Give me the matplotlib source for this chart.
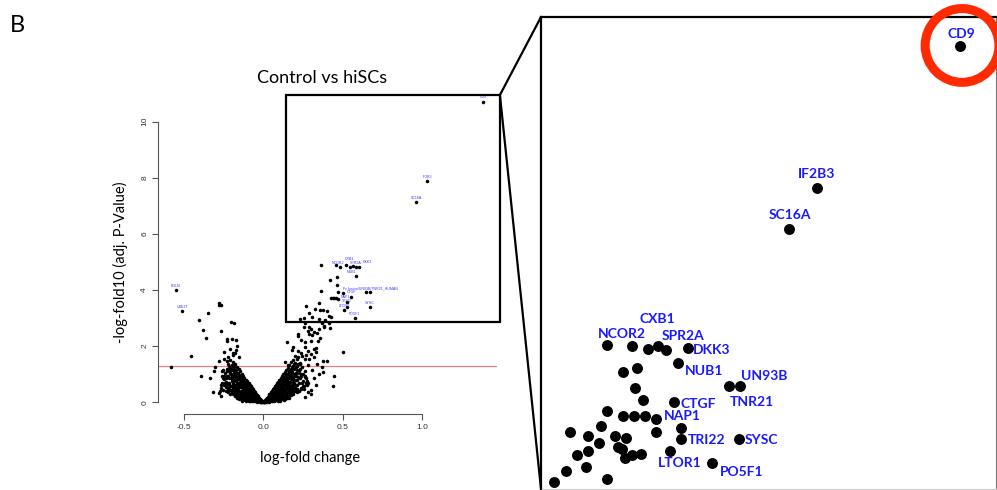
import matplotlib
matplotlib.use("Agg")
import matplotlib.pyplot as plt
from matplotlib.patches import Rectangle, Ellipse, ConnectionPatch

# ---------------- data (log-fold change, -log10 adj. p) ----------------
core_neg = [(-0.004,0.01),(-0.008,0.03),(-0.006,0.0),(-0.011,0.06),(-0.013,0.02),(-0.016,0.09),(-0.018,0.04),(-0.021,0.13),(-0.022,0.01),(-0.024,0.07),(-0.027,0.17),(-0.028,0.11),(-0.031,0.03),(-0.033,0.21),(-0.034,0.14),(-0.036,0.08),(-0.038,0.26),(-0.041,0.18),(-0.042,0.05),(-0.044,0.12),(-0.046,0.31),(-0.047,0.23),(-0.049,0.09),(-0.052,0.36),(-0.053,0.16),(-0.055,0.27),(-0.057,0.04),(-0.058,0.41),(-0.06,0.21),(-0.061,0.12),(-0.063,0.33),(-0.065,0.47),(-0.066,0.07),(-0.068,0.26),(-0.07,0.15),(-0.071,0.52),(-0.073,0.38),(-0.075,0.1),(-0.076,0.3),(-0.078,0.57),(-0.079,0.2),(-0.081,0.44),(-0.083,0.06),(-0.084,0.35),(-0.086,0.62),(-0.087,0.14),(-0.089,0.25),(-0.09,0.5),(-0.092,0.69),(-0.094,0.09),(-0.095,0.4),(-0.097,0.18),(-0.098,0.3),(-0.1,0.58),(-0.101,0.75),(-0.103,0.12),(-0.105,0.46),(-0.106,0.23),(-0.108,0.35),(-0.109,0.81),(-0.111,0.65),(-0.113,0.08),(-0.114,0.28),(-0.116,0.52),(-0.117,0.17),(-0.119,0.88),(-0.12,0.41),(-0.122,0.72),(-0.124,0.13),(-0.125,0.33),(-0.127,0.95),(-0.128,0.58),(-0.13,0.22),(-0.131,0.47),(-0.133,0.8),(-0.135,0.1),(-0.136,1.02),(-0.138,0.38),(-0.139,0.65),(-0.141,0.27),(-0.143,0.88),(-0.144,0.16),(-0.146,1.1),(-0.147,0.53),(-0.149,0.74),(-0.15,0.31),(-0.152,0.96),(-0.154,0.2),(-0.155,1.18),(-0.157,0.44),(-0.158,0.62),(-0.16,0.83),(-0.162,1.05),(-0.163,0.25),(-0.165,1.27),(-0.166,0.37),(-0.168,0.7),(-0.17,0.52),(-0.171,0.93),(-0.173,1.15),(-0.175,0.29),(-0.176,1.36),(-0.178,0.6),(-0.18,0.81),(-0.181,0.42),(-0.183,1.03),(-0.185,1.25),(-0.187,0.33),(-0.188,0.68),(-0.19,1.45),(-0.192,0.9),(-0.194,0.5),(-0.195,1.14),(-0.197,0.38),(-0.199,1.34),(-0.2,0.76),(-0.203,1.0),(-0.205,0.57),(-0.207,1.22),(-0.21,0.43),(-0.212,1.52),(-0.214,0.85),(-0.217,1.1),(-0.219,0.65),(-0.222,1.35),(-0.225,0.48),(-0.228,0.95),(-0.231,1.2),(-0.234,0.72),(-0.237,0.55),(-0.241,1.05),(-0.245,0.82),(-0.249,0.6),(-0.253,1.15),(-0.258,0.7),(-0.263,0.92),(-0.268,0.5),
(-0.012,0.0),(-0.019,0.07),(-0.026,0.04),(-0.032,0.12),(-0.039,0.02),(-0.043,0.22),(-0.048,0.15),(-0.054,0.06),(-0.059,0.3),(-0.062,0.18),(-0.067,0.4),(-0.069,0.03),(-0.074,0.24),(-0.077,0.46),(-0.082,0.13),(-0.085,0.3),(-0.088,0.55),(-0.091,0.05),(-0.093,0.21),(-0.096,0.63),(-0.099,0.36),(-0.102,0.15),(-0.104,0.7),(-0.107,0.04),(-0.11,0.42),(-0.112,0.24),(-0.115,0.6),(-0.118,0.77),(-0.121,0.19),(-0.123,0.5),(-0.126,0.3),(-0.129,0.84),(-0.132,0.06),(-0.134,0.55),(-0.137,0.72),(-0.14,0.42),(-0.142,0.2),(-0.145,0.92),(-0.148,0.62),(-0.151,0.12),(-0.153,0.35),(-0.156,0.85),(-0.159,1.0),(-0.161,0.55),(-0.164,0.15),(-0.167,0.95),(-0.169,0.4),(-0.172,0.75),(-0.174,1.05),(-0.177,0.22),(-0.179,0.98),(-0.182,0.5),(-0.184,1.15),(-0.186,0.8),(-0.189,0.28),(-0.191,1.3),(-0.193,0.62),(-0.196,0.95),(-0.198,0.45),(-0.202,1.18),(-0.206,0.88),(-0.209,0.3),(-0.213,0.7),(-0.216,1.3),(-0.22,0.95),(-0.224,0.36),(-0.227,1.1),(-0.232,0.85),(-0.236,0.42),(-0.24,0.68),(-0.246,0.95),(-0.252,0.45),(-0.257,0.85),(-0.264,0.62),(-0.272,0.4),(-0.28,0.33),
(-0.035,0.19),(-0.045,0.27),(-0.064,0.38),(-0.072,0.44),(-0.08,0.33),(-0.096,0.52),(-0.118,0.62),(-0.13,0.7),(-0.143,0.8),(-0.16,0.68),(-0.175,0.9),(-0.19,0.78),(-0.2,0.95),(-0.21,1.05),(-0.15,0.55),(-0.125,0.45),(-0.105,0.38),(-0.085,0.47),(-0.058,0.35),(-0.17,0.35),(-0.185,0.55),(-0.215,0.55),(-0.23,0.65)]

scatter_neg = [(-0.552,3.99),(-0.512,3.24),(-0.281,3.53),(-0.267,3.48),(-0.277,3.46),(-0.347,3.17),(-0.407,2.94),(-0.205,2.86),(-0.187,2.81),(-0.382,2.57),(-0.268,2.54),(-0.359,2.30),(-0.231,2.24),(-0.197,2.27),(-0.170,2.23),(-0.229,2.17),(-0.164,2.0),(-0.170,1.85),(-0.25,1.78),(-0.189,1.77),(-0.454,1.64),(-0.155,1.60),(-0.281,1.46),(-0.227,1.46),(-0.582,1.26),(-0.302,1.27),(-0.313,1.10),(-0.394,0.95),(-0.338,0.88),(-0.315,0.36),(-0.268,0.24),(-0.26,1.11),(-0.22,1.62),(-0.19,1.67),(-0.245,1.55),(-0.21,1.9),(-0.18,1.75)]

core_pos = [(0.004,0.01),(0.008,0.04),(0.006,0.0),(0.011,0.08),(0.013,0.02),(0.016,0.12),(0.018,0.05),(0.021,0.16),(0.022,0.01),(0.024,0.09),(0.027,0.2),(0.028,0.13),(0.031,0.04),(0.033,0.25),(0.034,0.17),(0.036,0.08),(0.038,0.3),(0.041,0.21),(0.042,0.06),(0.044,0.13),(0.046,0.35),(0.047,0.27),(0.049,0.1),(0.052,0.4),(0.053,0.18),(0.055,0.31),(0.057,0.05),(0.058,0.46),(0.06,0.24),(0.061,0.14),(0.063,0.37),(0.065,0.52),(0.066,0.08),(0.068,0.3),(0.07,0.18),(0.071,0.57),(0.073,0.42),(0.075,0.11),(0.076,0.34),(0.078,0.62),(0.079,0.23),(0.081,0.48),(0.083,0.07),(0.084,0.39),(0.086,0.68),(0.087,0.16),(0.089,0.29),(0.09,0.55),(0.092,0.74),(0.094,0.11),(0.095,0.44),(0.097,0.21),(0.098,0.34),(0.1,0.63),(0.101,0.8),(0.103,0.14),(0.105,0.51),(0.106,0.26),(0.108,0.39),(0.109,0.86),(0.111,0.7),(0.113,0.1),(0.114,0.31),(0.116,0.57),(0.117,0.19),(0.119,0.93),(0.12,0.45),(0.122,0.77),(0.124,0.15),(0.125,0.36),(0.127,1.0),(0.128,0.62),(0.13,0.24),(0.131,0.5),(0.133,0.85),(0.135,0.13),(0.136,1.07),(0.138,0.41),(0.139,0.69),(0.141,0.3),(0.143,0.93),(0.144,0.19),(0.146,1.15),(0.147,0.56),(0.149,0.78),(0.15,0.34),(0.152,1.0),(0.154,0.22),(0.155,1.22),(0.157,0.47),(0.158,0.66),(0.16,0.87),(0.162,1.1),(0.163,0.28),(0.165,1.32),(0.166,0.4),(0.168,0.74),(0.17,0.55),(0.171,0.97),(0.173,1.2),(0.175,0.31),(0.176,1.42),(0.178,0.63),(0.18,0.85),(0.182,0.45),(0.183,1.08),(0.185,1.3),(0.187,0.36),(0.188,0.72),(0.19,1.52),(0.192,0.94),(0.194,0.52),(0.196,1.2),(0.198,0.4),(0.2,1.4),(0.203,0.8),(0.206,1.05),(0.209,0.6),(0.212,1.28),(0.215,0.46),(0.218,1.6),(0.221,0.9),(0.224,1.15),(0.228,0.68),(0.232,1.4),(0.236,0.52),(0.24,1.0),(0.245,1.25),(0.25,0.75),(0.256,0.58),(0.262,1.1),(0.268,0.85),(0.275,0.62),
(0.012,0.0),(0.019,0.08),(0.026,0.05),(0.032,0.14),(0.039,0.02),(0.043,0.25),(0.048,0.17),(0.054,0.07),(0.059,0.34),(0.062,0.2),(0.067,0.45),(0.069,0.03),(0.074,0.27),(0.077,0.5),(0.082,0.15),(0.085,0.33),(0.088,0.6),(0.091,0.06),(0.093,0.24),(0.096,0.68),(0.099,0.4),(0.102,0.17),(0.104,0.75),(0.107,0.05),(0.11,0.46),(0.112,0.27),(0.115,0.65),(0.118,0.83),(0.121,0.21),(0.123,0.55),(0.126,0.33),(0.129,0.9),(0.132,0.08),(0.134,0.6),(0.137,0.78),(0.14,0.46),(0.142,0.22),(0.145,1.0),(0.148,0.68),(0.151,0.14),(0.153,0.38),(0.156,0.92),(0.159,1.08),(0.161,0.6),(0.164,0.17),(0.167,1.02),(0.169,0.44),(0.172,0.82),(0.174,1.13),(0.177,0.25),(0.179,1.05),(0.182,0.55),(0.184,1.25),(0.186,0.87),(0.189,0.3),(0.191,1.38),(0.193,0.68),(0.197,1.02),(0.2,0.5),(0.204,1.27),(0.208,0.95),(0.211,0.35),(0.215,0.78),(0.219,1.38),(0.222,1.05),(0.226,0.4),(0.23,1.2),(0.235,0.92),(0.24,0.46),(0.244,0.7),(0.25,1.02),(0.255,0.48),(0.26,0.9),(0.266,0.7),
(0.035,0.2),(0.05,0.3),(0.064,0.41),(0.072,0.49),(0.08,0.35),(0.096,0.56),(0.118,0.68),(0.13,0.75),(0.143,0.85),(0.16,0.73),(0.175,0.95),(0.19,0.82),(0.2,1.0),(0.21,1.15),(0.15,0.6),(0.125,0.48),(0.105,0.42),(0.085,0.52),(0.058,0.39),(0.17,0.38),(0.185,0.6),(0.215,0.62),(0.23,0.85)]

scatter_pos = [(0.149,2.15),(0.217,2.43),(0.221,2.35),(0.284,2.54),(0.29,2.45),(0.31,2.39),(0.32,2.5),(0.338,2.46),(0.238,2.22),(0.263,2.14),(0.3,2.2),(0.263,1.98),(0.189,1.96),(0.183,1.85),(0.22,1.82),(0.284,1.84),(0.32,1.9),(0.335,1.95),(0.335,1.78),(0.318,1.60),(0.246,1.65),(0.2,1.65),(0.21,1.53),(0.263,1.53),(0.29,1.53),(0.137,1.45),(0.158,1.33),(0.23,1.35),(0.284,1.33),(0.336,1.36),(0.378,1.47),(0.399,1.47),(0.368,1.25),(0.378,1.09),(0.50,1.80),(0.446,0.95),(0.437,0.59),(0.263,0.95),(0.273,0.77),(0.284,0.68),(0.252,0.57),(0.3,0.45),(0.263,0.2),(0.3,0.3),(0.32,0.85),(0.35,1.0),(0.31,1.15),(0.33,0.6),(0.28,0.35),(0.24,1.75),(0.27,1.7),(0.3,1.72),(0.345,2.2),(0.36,2.3),
(0.29,2.7),(0.38,2.68),(0.42,2.66),(0.3,2.6),(0.35,2.62),(0.258,2.69),(0.384,2.73),
(0.365,4.88),(0.458,4.88),(0.483,4.81),(0.519,4.88),(0.546,4.83),(0.567,4.86),(0.582,4.81),(0.603,4.81),
(0.42,4.36),(0.466,4.45),(0.584,4.51),(0.462,4.18),(0.365,3.95),(0.469,3.92),(0.504,3.91),(0.647,3.92),(0.672,3.92),
(0.425,3.70),(0.437,3.70),(0.448,3.70),(0.458,3.70),(0.473,3.68),(0.55,3.74),(0.525,3.56),(0.525,3.41),(0.353,3.53),(0.269,3.44),
(0.672,3.38),(0.51,3.29),(0.326,3.32),(0.357,3.29),(0.378,3.29),(0.4,3.25),(0.416,3.07),(0.29,3.17),(0.231,2.97),(0.258,3.01),(0.305,3.05),(0.351,2.97),(0.389,2.93),(0.425,3.03),(0.576,3.0),(0.413,2.84),(0.37,2.84),(0.262,2.82),
(0.964,7.14),(1.03,7.89),(1.382,10.69)]

# gene labels on the overview panel (x, y, text)
overview_labels = [(1.384,10.88,"CD9"),(1.031,8.03,"IF2B3"),(0.962,7.28,"SC16A"),(-0.55,4.14,"EGLN"),(-0.512,3.39,"UBE2T"),
                   (0.47,4.98,"NCOR2"),(0.545,5.12,"CXB1"),(0.585,4.98,"SPR2A"),(0.655,5.0,"DKK3"),(0.559,4.64,"NUB1"),
                   (0.674,4.06,"Fc fusion/UN93B/TNR21_HUMAN"),(0.557,3.92,"CTGF"),(0.519,3.76,"NAP1"),(0.525,3.6,"TRI22"),
                   (0.51,3.44,"LTOR1"),(0.672,3.53,"SYSC"),(0.571,3.15,"PO5F1")]

# zoomed panel (as drawn in the enlarged view)
zoom_x = [1.380,0.971,0.891,0.371,0.442,0.489,0.518,0.540,0.602,0.575,0.418,0.456,0.451,0.751,0.721,0.475,0.564,0.372,0.416,0.449,0.480,0.511,0.354,0.582,0.511,0.265,0.318,0.394,0.426,0.583,0.749,0.349,0.402,0.413,0.316,0.551,0.286,0.444,0.468,0.423,0.671,0.311,0.253,0.371,0.221]
zoom_y = [10.700,8.021,7.247,5.058,5.045,4.983,5.040,4.964,5.008,4.713,4.555,4.630,4.242,4.291,4.291,4.021,3.989,3.813,3.725,3.725,3.725,3.662,3.536,3.487,3.423,3.411,3.347,3.347,3.298,3.285,3.279,3.204,3.140,3.096,3.058,3.064,2.983,2.983,3.002,2.932,2.832,2.762,2.687,2.525,2.479]
zoom_labels = [(1.383,10.921,"CD9"),(0.969,8.279,"IF2B3"),(0.894,7.511,"SC16A"),(0.515,5.543,"CXB1"),(0.413,5.26,"NCOR2"),
               (0.589,5.234,"SPR2A"),(0.671,4.964,"DKK3"),(0.649,4.568,"NUB1"),(0.82,4.474,"UN93B"),(0.785,3.977,"TNR21"),
               (0.632,3.94,"CTGF"),(0.587,3.719,"NAP1"),(0.655,3.266,"TRI22"),(0.814,3.266,"SYSC"),(0.578,2.826,"LTOR1"),(0.756,2.657,"PO5F1")]

sig_line = 1.30
x_ticks = [-0.5, 0.0, 0.5, 1.0]
y_ticks = [0, 2, 4, 6, 8, 10]

# ---------------- figure ----------------
W, H = 997, 490
fig = plt.figure(figsize=(W/100, H/100), dpi=100)

def fx(px): return px / W
def fy(py): return 1 - py / H

# overview volcano
ax = fig.add_axes([fx(158), fy(414), fx(497) - fx(158), fy(90) - fy(414)])
pts = core_neg + scatter_neg + core_pos + scatter_pos
xs = [p[0] for p in pts]
ys = [p[1] for p in pts]
ax.scatter(xs, ys, s=6.5, c="black", linewidths=0, zorder=3)
ax.axhline(sig_line, color="#f08080", lw=0.9, zorder=2)
ax.set_xlim(-0.6635, 1.4726)
ax.set_ylim(-0.417, 11.126)
for sp in ["top", "right"]:
    ax.spines[sp].set_visible(False)
ax.spines["left"].set_bounds(0, 10)
ax.spines["bottom"].set_bounds(-0.5, 1.0)
for sp in ["left", "bottom"]:
    ax.spines[sp].set_color("#555555")
    ax.spines[sp].set_linewidth(0.8)
ax.set_xticks(x_ticks)
ax.set_xticklabels(["-0.5", "0.0", "0.5", "1.0"])
ax.set_yticks(y_ticks)
ax.set_yticklabels([str(v) for v in y_ticks], rotation=90, va="center")
ax.tick_params(axis="both", length=4, width=0.8, color="#555555", labelsize=6, pad=3, labelcolor="#333333")
for lab in ax.get_xticklabels() + ax.get_yticklabels():
    lab.set_family("Liberation Sans")
for (lx, ly, t) in overview_labels:
    ax.text(lx, ly, t, fontsize=2.6, color="#3b3bff", ha="center", va="center", family="Liberation Sans", zorder=4)

# highlight box
ax.add_patch(Rectangle((0.143, 2.861), 1.348, 8.087, fill=False, ec="black", lw=1.6, clip_on=False, zorder=5))

fig.text(fx(322), fy(78), "Control vs hiSCs", fontsize=13, ha="center", va="center", family="Lato")
fig.text(fx(310), fy(458), "log-fold change", fontsize=10.5, ha="center", va="center", family="Lato")
fig.text(fx(120), fy(262), "-log-fold10 (adj. P-Value)", fontsize=10.5, ha="center", va="center", rotation=90, family="Lato")
fig.text(fx(10), fy(25), "B", fontsize=17, ha="left", va="center", family="Lato")

# zoomed panel
az = fig.add_axes([fx(541), fy(489), fx(996) - fx(541), fy(17) - fy(489)])
az.scatter(zoom_x, zoom_y, s=62, c="black", linewidths=0, zorder=3)
az.set_xlim(0.183, 1.483)
az.set_ylim(2.342, 11.247)
az.set_xticks([]); az.set_yticks([])
az.spines["left"].set_linewidth(1.6)
az.spines["top"].set_linewidth(1.6)
az.spines["right"].set_linewidth(0.8)
az.spines["right"].set_color("#777777")
az.spines["bottom"].set_linewidth(0.8)
az.spines["bottom"].set_color("#cccccc")
for (lx, ly, t) in zoom_labels:
    az.text(lx, ly, t, fontsize=10, color="#1a1aff", ha="center", va="center", family="Lato", fontweight="bold", zorder=4)
az.add_patch(Ellipse((1.386, 10.71), 2*36.9/350, 2*36.9/53, fill=False, ec="#ff2a00", lw=6.5, clip_on=False, zorder=6))

# connector lines
for yb in [11.247, 2.342]:
    con = ConnectionPatch(xyA=(1.491, 10.948), coordsA=ax.transData, xyB=(0.183, yb), coordsB=az.transData,
                          color="black", lw=1.6)
    fig.add_artist(con)

fig.savefig("out.png", dpi=100)
